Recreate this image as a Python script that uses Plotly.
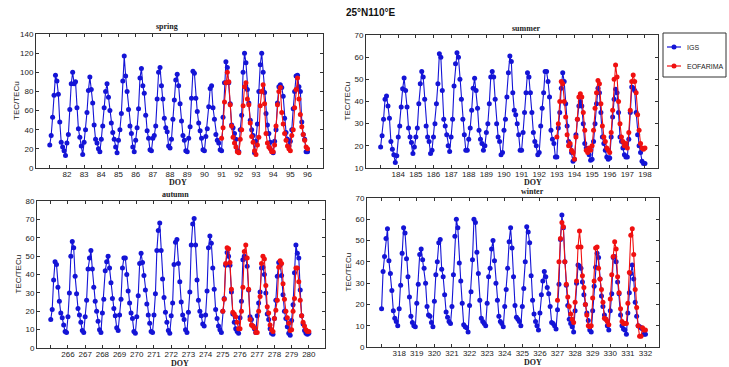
import plotly.graph_objects as go

W, H = 729, 367
PTS_PER_DAY = 12

# ---------------- data (TEC, TECu) : 12 samples per day (2-hourly) ----------------
spring_start = 81
spring_igs = [
    24, 34, 53, 76, 97, 91, 77, 48, 27, 22, 18, 13,
    26, 35, 61, 88, 100, 88, 90, 63, 41, 32, 23, 14,
    27, 40, 58, 81, 95, 82, 68, 45, 30, 26, 20, 17,
    30, 44, 63, 80, 88, 74, 60, 47, 37, 30, 22, 16,
    29, 40, 57, 91, 117, 96, 80, 61, 44, 36, 22, 17,
    29, 42, 62, 94, 104, 86, 78, 55, 39, 31, 19, 18,
    31, 34, 44, 72, 100, 105, 86, 72, 52, 42, 38, 23,
    21, 30, 51, 71, 92, 98, 86, 67, 49, 34, 29, 18,
    17, 31, 43, 73, 101, 99, 73, 59, 47, 39, 31, 19,
    18, 33, 41, 64, 83, 86, 63, 51, 35, 29, 26, 19,
    18, 53, 89, 111, 105, 89, 67, 45, 42, 36, 30, 18,
    17, 40, 55, 100, 120, 110, 82, 68, 50, 40, 34, 16,
    28, 46, 80, 108, 120, 100, 79, 57, 45, 36, 27, 18,
    16, 28, 40, 68, 85, 87, 84, 75, 52, 37, 30, 23,
    28, 40, 62, 80, 96, 97, 85, 80, 48, 35, 30, 17,
    17,
]
spring_eof_start = 91
spring_eof = [
    31, 42, 69, 89, 100, 90, 66, 44, 32, 26, 22, 17,
    16, 30, 40, 65, 85, 89, 72, 66, 47, 33, 27, 18,
    14, 24, 32, 65, 80, 87, 67, 36, 26, 22, 20, 17,
    17, 24, 44, 66, 80, 84, 58, 46, 36, 29, 23, 20,
    18, 34, 40, 63, 82, 94, 72, 56, 43, 35, 29, 22,
    20,
]

summer_start = 183
summer_igs = [
    19.5, 24.5, 32, 41, 42.5, 38, 32.5, 22, 18.5, 16, 12.5, 15.5,
    24, 29, 37.5, 45.7, 50.6, 45, 37.5, 28, 24, 21.5, 16.5, 19.5,
    24, 28, 39, 48, 53.5, 51, 41, 29, 24, 22, 16.5, 18,
    24, 30, 39, 48, 61.5, 60, 45, 32, 29, 25, 20, 17.5,
    24, 32, 47, 57, 62, 60, 50, 41, 32, 25, 18, 18,
    23, 28, 36, 46, 50.5, 45, 37, 27, 23, 21, 18, 20,
    26, 30, 39, 51, 53.5, 51, 41, 30, 24, 22, 16, 17,
    27, 32, 42, 53, 60.5, 58, 44, 36, 34, 30, 25, 18,
    18, 26, 35, 44, 53, 51, 44, 35, 26, 22, 20, 16,
    17, 29, 37, 44, 53.5, 53.5, 49, 42, 27, 23, 21, 15,
    15, 28, 35, 46, 53, 49, 39, 29, 22, 20, 17, 13,
    14, 25, 32, 38, 40, 38, 30, 21, 19, 18, 16, 13.5,
    14, 22, 30, 39, 46, 44, 35, 24, 21, 18, 15, 14,
    14.5, 24, 33, 41, 45.5, 44, 35, 24, 22, 19, 16, 15,
    15, 23, 35, 46.5, 46, 45, 35, 25, 20, 17, 13, 12,
    12,
]
summer_eof_start = 193
summer_eof = [
    24, 30, 40, 49, 48, 40, 33, 25, 20, 21, 18, 17,
    14, 24, 32, 42, 43.5, 42, 35, 27, 18, 17, 19, 18,
    20, 27, 37, 44, 49.5, 48, 39, 29, 24, 22, 19, 18,
    17, 26, 36, 50, 56.5, 51, 40, 30, 24, 22, 20, 21,
    19, 26, 36, 49, 52, 49, 44, 34, 27, 21, 19, 18.5,
    19,
]

autumn_start = 265
autumn_igs = [
    15.5, 21, 37, 47, 45.5, 33, 25.5, 19, 16.5, 12.5, 9, 8.5,
    17, 30, 50, 58, 54.5, 39, 29.5, 21.5, 18, 14, 9.5, 8.5,
    17, 26, 43, 49, 53, 43, 33, 25.5, 20, 14.5, 10, 8.5,
    19, 26.5, 42, 47, 50, 43.5, 35.5, 27, 21.5, 17.5, 11, 9.5,
    18, 26.5, 43.5, 49, 49, 40, 31, 24.5, 19, 16, 9, 8,
    17, 28.5, 46, 51.5, 46.5, 39.5, 31.5, 24, 18, 13.5, 9, 8.5,
    18, 29.5, 53, 64, 68, 53, 37.5, 27.5, 19.5, 14, 9.5, 8,
    17.5, 24.5, 45.5, 57.5, 59, 46, 36, 25, 18, 15.5, 10, 8.5,
    19.5, 30.5, 56, 67.5, 70.5, 56, 37, 26, 20, 17.5, 13, 12,
    18, 31, 54.5, 61, 57, 43.5, 32, 21, 16, 12, 10, 8.5,
    20, 27, 45, 52, 50, 45, 30.5, 18.5, 14, 10.5, 9, 8,
    16.5, 25.5, 48, 50, 49, 44.5, 31.5, 17, 15.5, 12, 10.5, 8.5,
    17.5, 24.5, 30.5, 43.5, 44, 40, 30, 18.5, 15.5, 10.5, 8, 7.5,
    16, 26, 39, 46.5, 45, 39.5, 29, 20, 16, 11.5, 8, 7,
    15, 23.5, 41, 56, 51.5, 49, 31.5, 17.5, 13, 9.5, 8, 7.5,
    8,
]
autumn_eof_start = 275
autumn_eof = [
    20, 26.5, 46, 54.5, 54, 46.5, 32, 19.5, 18.5, 17, 14, 10.5,
    10.5, 20, 33, 52.5, 56, 49, 32, 15.5, 12.5, 12, 11, 8.5,
    8.5, 20, 28, 46, 50, 48.5, 34, 22.5, 19, 12.5, 10, 9,
    16, 20.5, 26, 44, 47.5, 46, 35, 26.5, 20, 16.5, 13.5, 9.5,
    10, 20, 27, 43.5, 43.5, 36, 26, 17.5, 14, 12, 10, 9,
    9,
]

winter_start = 317
winter_igs = [
    18, 35.5, 42.5, 51, 55.5, 40.5, 34.5, 26.5, 17, 13.5, 12, 10,
    18, 29, 44, 56, 53.5, 41.5, 33, 23.5, 14.5, 11.5, 10, 9.5,
    20.5, 29.5, 43.5, 46, 41, 37, 30, 19, 15, 14.5, 11.5, 9.5,
    21.5, 34, 40, 49, 50.5, 36.5, 33, 24.5, 16.5, 14, 12, 11,
    19, 34, 52, 60, 56, 39.5, 31, 20.5, 10.5, 9.5, 9, 7,
    19.5, 26, 41, 60, 58.5, 44.5, 34.5, 22, 13.5, 12, 11, 10,
    20.5, 33, 37, 46, 50, 40.5, 30, 22, 14.5, 12, 11, 9.5,
    19, 27, 37, 49.5, 56, 46.5, 33, 19.5, 14, 13, 12, 10,
    19, 27.5, 40, 56.5, 54, 49, 33.5, 22, 15.5, 12, 10, 8,
    16, 24.5, 31, 35.5, 33, 28, 25, 19, 11.5, 11, 10, 8.5,
    17.5, 29.5, 50.5, 62, 56, 40, 29, 19.5, 13, 11, 9.5, 7,
    17, 30, 38.5, 38, 37, 30.5, 24.5, 20, 16, 12.5, 8, 7,
    17, 28.5, 37.5, 44, 42, 32, 24, 19, 15, 13, 10, 8,
    17, 25, 42, 42.5, 40, 30.5, 25, 15, 10, 8.5, 8, 6,
    16, 25.5, 34.5, 38.5, 32, 21, 14.5, 10, 9.5, 9, 8.5, 6,
    6,
]
winter_eof_start = 327
winter_eof = [
    22, 40, 51, 58.5, 56.5, 40, 29.5, 23.5, 19, 15.5, 13, 11.5,
    21, 31, 47, 54.5, 47, 33.5, 28, 20, 15, 10, 9.5, 10,
    23, 31, 46.5, 47, 37, 32, 27, 21, 13.5, 13, 12, 10.5,
    22.5, 34, 42.5, 49.5, 46, 33, 25.5, 18, 12, 11, 11, 11,
    20.5, 35, 52.5, 55.5, 43.5, 27, 18.5, 10, 5, 5, 9, 8,
    8,
]

spring_ticks = list(range(81, 97))
summer_ticks = list(range(183, 199))
autumn_ticks = list(range(265, 281))
winter_ticks = list(range(317, 333))

spring_yticks = list(range(0, 141, 20))
summer_yticks = list(range(10, 71, 10))
autumn_yticks = list(range(0, 81, 10))
winter_yticks = list(range(0, 71, 10))

season_names = ["spring", "summer", "autumn", "winter"]
main_title = "25°N110°E"
y_title = "TEC/TECu"
x_title = "DOY"
series_names = ["IGS", "EOFARIMA"]

# ---------------- layout geometry (pixels) ----------------
BLUE = "#1414d6"
RED = "#f01010"
SANS = "Liberation Sans, Arial, sans-serif"
TICK_FONT = dict(family=SANS, size=8, color="#222")
SERIF_BOLD = "Liberation Serif, Times New Roman, serif"

panels = [
    # name, igs, start, eof, start, xticks, yticks, xrange, box(l,r,t,b), title x, DOY x
    (season_names[0], spring_igs, spring_start, spring_eof, spring_eof_start,
     spring_ticks, spring_yticks, [80.2, 96.9], (36, 323, 34, 168), 167, 178),
    (season_names[1], summer_igs, summer_start, summer_eof, summer_eof_start,
     summer_ticks, summer_yticks, [182.17, 198.74], (366, 658, 35, 168), 526, 533),
    (season_names[2], autumn_igs, autumn_start, autumn_eof, autumn_eof_start,
     autumn_ticks, autumn_yticks, [264.2, 280.94], (37, 325, 201, 348), 175, 180),
    (season_names[3], winter_igs, winter_start, winter_eof, winter_eof_start,
     winter_ticks, winter_yticks, [316.17, 332.77], (367, 659, 198, 347), 532, 533),
]

fig = go.Figure()
annotations = []
shapes = []
layout_axes = {}

for k, (name, igs, s0, eof, e0, xt, yt, xr, box, tx, dx) in enumerate(panels):
    idx = "" if k == 0 else str(k + 1)
    l, r, t, b = box
    x_igs = [s0 + i / PTS_PER_DAY for i in range(len(igs))]
    x_eof = [e0 + i / PTS_PER_DAY for i in range(len(eof))]
    fig.add_trace(go.Scatter(
        x=x_igs, y=igs, mode="lines+markers", name=series_names[0],
        line=dict(color=BLUE, width=1.1), marker=dict(color=BLUE, size=5),
        xaxis="x" + idx, yaxis="y" + idx, showlegend=False))
    fig.add_trace(go.Scatter(
        x=x_eof, y=eof, mode="lines+markers", name=series_names[1],
        line=dict(color=RED, width=1.1), marker=dict(color=RED, size=5),
        xaxis="x" + idx, yaxis="y" + idx, showlegend=False))

    ticktext = [""] + [str(v) for v in xt[1:]]
    layout_axes["xaxis" + idx] = dict(
        domain=[l / W, r / W], range=xr, anchor="y" + idx,
        tickmode="array", tickvals=xt, ticktext=ticktext,
        ticks="inside", ticklen=3, tickcolor="#333", showline=True,
        linecolor="#333", linewidth=1, mirror="ticks", showgrid=False,
        zeroline=False, tickfont=TICK_FONT, automargin=False,
        ticklabelstandoff=-2)
    layout_axes["yaxis" + idx] = dict(
        domain=[1 - b / H, 1 - t / H], range=[yt[0], yt[-1]], anchor="x" + idx,
        tickmode="array", tickvals=yt,
        ticks="inside", ticklen=3, tickcolor="#333", showline=True,
        linecolor="#333", linewidth=1, mirror="ticks", showgrid=False,
        zeroline=False, tickfont=TICK_FONT, automargin=False)

    annotations.append(dict(text="<b>%s</b>" % name, x=tx / W, y=1 - (t - 7) / H,
                            xref="paper", yref="paper", showarrow=False,
                            font=dict(family=SERIF_BOLD, size=8, color="#222"),
                            xanchor="center", yanchor="middle"))
    annotations.append(dict(text="<b>%s</b>" % x_title, x=dx / W, y=1 - (b + 15) / H,
                            xref="paper", yref="paper", showarrow=False,
                            font=dict(family=SERIF_BOLD, size=8, color="#222"),
                            xanchor="center", yanchor="middle"))
    annotations.append(dict(text=y_title, x=(l - 19) / W, y=1 - ((t + b) / 2) / H,
                            xref="paper", yref="paper", showarrow=False, textangle=-90,
                            font=dict(family=SANS, size=8, color="#222"),
                            xanchor="center", yanchor="middle"))

annotations.append(dict(text="<b>%s</b>" % main_title, x=370 / W, y=1 - 13 / H,
                        xref="paper", yref="paper", showarrow=False,
                        font=dict(family=SANS, size=10, color="#111"),
                        xanchor="center", yanchor="middle"))

# ---------------- legend (drawn as a small box) ----------------
LEG_L, LEG_R, LEG_T, LEG_B = 663, 726, 33, 77
shapes.append(dict(type="rect", xref="paper", yref="paper",
                   x0=LEG_L / W, x1=LEG_R / W, y0=1 - LEG_B / H, y1=1 - LEG_T / H,
                   line=dict(color="#333", width=1), fillcolor="white", layer="above"))
for row, (nm, col) in enumerate(zip(series_names, [BLUE, RED])):
    yy = 1 - (47 + 19 * row) / H
    shapes.append(dict(type="line", xref="paper", yref="paper",
                       x0=667 / W, x1=681 / W, y0=yy, y1=yy,
                       line=dict(color=col, width=1.2), layer="above"))
    shapes.append(dict(type="circle", xref="paper", yref="paper",
                       x0=671.5 / W, x1=676.5 / W, y0=yy - 2.5 / H, y1=yy + 2.5 / H,
                       line=dict(color=col, width=0), fillcolor=col, layer="above"))
    annotations.append(dict(text=nm, x=685 / W, y=yy, xref="paper", yref="paper",
                            showarrow=False, xanchor="left", yanchor="middle",
                            font=dict(family=SANS, size=7, color="#222")))

fig.update_layout(
    width=W, height=H, margin=dict(l=0, r=0, t=0, b=0),
    paper_bgcolor="white", plot_bgcolor="white",
    annotations=annotations, shapes=shapes, showlegend=False,
    **layout_axes,
)

fig.write_html("out.html", config={"displayModeBar": False},
               post_script="document.body.style.margin='0';"
                           "document.body.style.overflow='hidden';")
